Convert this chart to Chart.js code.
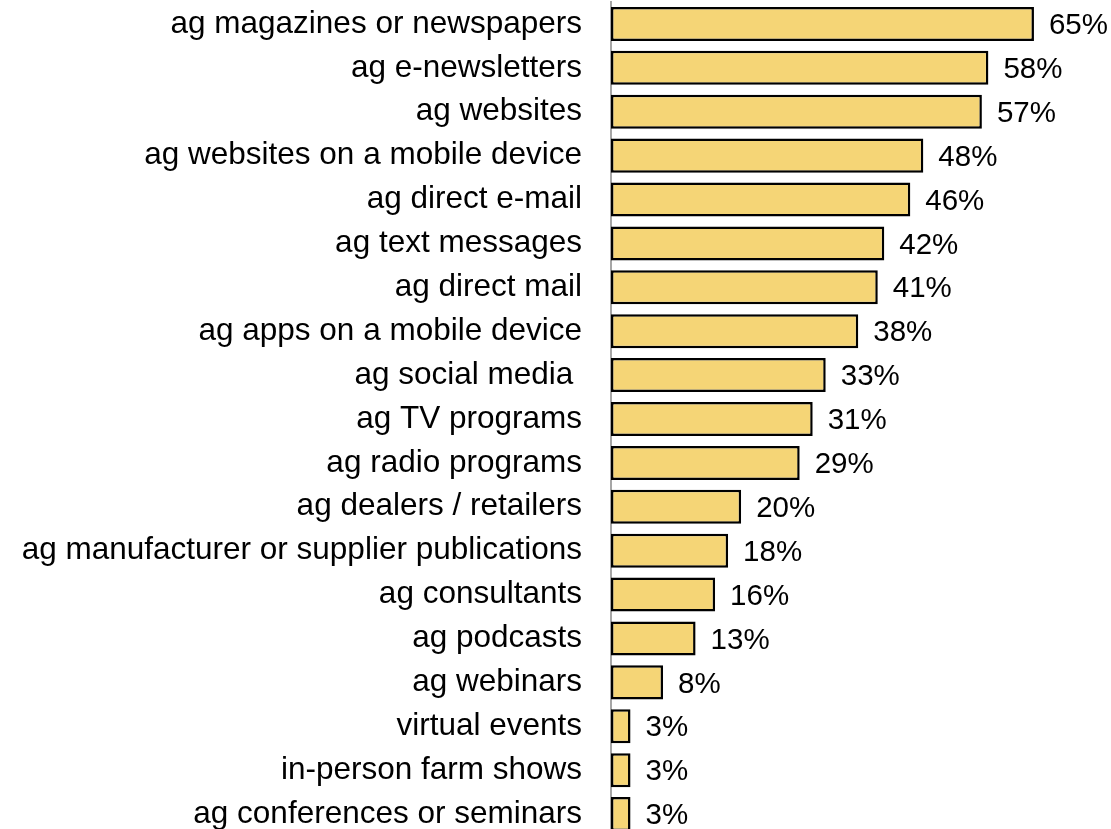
<!DOCTYPE html>
<html>
<head>
<meta charset="utf-8">
<script src="https://cdn.jsdelivr.net/npm/chart.js@4"></script>
<style>
  html, body { margin: 0; padding: 0; background: #fff; overflow: hidden; }
  #wrap { position: relative; width: 1111px; height: 840px; }
</style>
</head>
<body>
<div id="wrap"><canvas id="chart"></canvas></div>
<script>
const categories = [
  "ag magazines or newspapers",
  "ag e-newsletters",
  "ag websites",
  "ag websites on a mobile device",
  "ag direct e-mail",
  "ag text messages",
  "ag direct mail",
  "ag apps on a mobile device",
  "ag social media ",
  "ag TV programs",
  "ag radio programs",
  "ag dealers / retailers",
  "ag manufacturer or supplier publications",
  "ag consultants",
  "ag podcasts",
  "ag webinars",
  "virtual events",
  "in-person farm shows",
  "ag conferences or seminars"
];
const shares = [65, 58, 57, 48, 46, 42, 41, 38, 33, 31, 29, 20, 18, 16, 13, 8, 3, 3, 3];

const FONT = "'Liberation Sans', Arial, sans-serif";

// writes "NN%" just right of each bar
const valueLabels = {
  id: "valueLabels",
  afterDatasetsDraw(chart) {
    const ctx = chart.ctx;
    const meta = chart.getDatasetMeta(0);
    ctx.save();
    ctx.font = "29.5px " + FONT;
    ctx.fillStyle = "#000";
    ctx.textAlign = "left";
    ctx.textBaseline = "middle";
    meta.data.forEach((bar, i) => {
      ctx.fillText(shares[i] + "%", bar.x + 15, bar.y + 2);
    });
    ctx.restore();
  }
};

new Chart(document.getElementById("chart"), {
  type: "bar",
  data: {
    labels: categories,
    datasets: [{
      data: shares,
      backgroundColor: "#F5D576",
      borderColor: "#000",
      borderWidth: 2.5,
      borderSkipped: false,
      barPercentage: 0.775,
      categoryPercentage: 1
    }]
  },
  options: {
    indexAxis: "y",
    responsive: true,
    maintainAspectRatio: false,
    animation: false,
    layout: { padding: { top: 2, bottom: 4, right: 12, left: 0 } },
    plugins: {
      legend: { display: false },
      tooltip: { enabled: false }
    },
    scales: {
      x: {
        display: false,
        min: 0,
        max: 75
      },
      y: {
        grid: { display: false, drawTicks: false },
        border: { display: true, color: "#a6a6a6", width: 2 },
        ticks: {
          color: "#000",
          padding: 29,
          font: { family: FONT, size: 31.5 }
        },
        afterFit(scale) {
          scale.width = 611;
          scale.paddingTop = 0;
          scale.paddingBottom = 0;
        }
      }
    }
  },
  plugins: [valueLabels]
});
</script>
</body>
</html>
